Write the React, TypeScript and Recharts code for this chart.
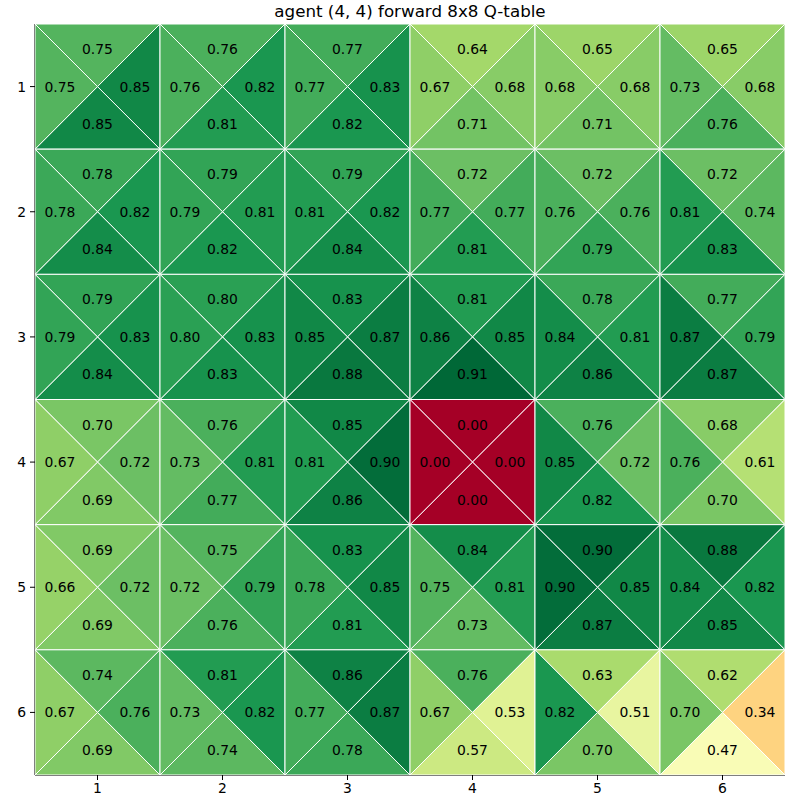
import { ScatterChart, Scatter, XAxis, YAxis } from 'recharts';

const COLS = [1, 2, 3, 4, 5, 6];
const ROWS = [1, 2, 3, 4, 5, 6];

// Q-values per action, one row of the grid per line (row 1 at top)
const Q_UP = [
  [0.75, 0.76, 0.77, 0.64, 0.65, 0.65],
  [0.78, 0.79, 0.79, 0.72, 0.72, 0.72],
  [0.79, 0.80, 0.83, 0.81, 0.78, 0.77],
  [0.70, 0.76, 0.85, 0.00, 0.76, 0.68],
  [0.69, 0.75, 0.83, 0.84, 0.90, 0.88],
  [0.74, 0.81, 0.86, 0.76, 0.63, 0.62],
];
const Q_RIGHT = [
  [0.85, 0.82, 0.83, 0.68, 0.68, 0.68],
  [0.82, 0.81, 0.82, 0.77, 0.76, 0.74],
  [0.83, 0.83, 0.87, 0.85, 0.81, 0.79],
  [0.72, 0.81, 0.90, 0.00, 0.72, 0.61],
  [0.72, 0.79, 0.85, 0.81, 0.85, 0.82],
  [0.76, 0.82, 0.87, 0.53, 0.51, 0.34],
];
const Q_DOWN = [
  [0.85, 0.81, 0.82, 0.71, 0.71, 0.76],
  [0.84, 0.82, 0.84, 0.81, 0.79, 0.83],
  [0.84, 0.83, 0.88, 0.91, 0.86, 0.87],
  [0.69, 0.77, 0.86, 0.00, 0.82, 0.70],
  [0.69, 0.76, 0.81, 0.73, 0.87, 0.85],
  [0.69, 0.74, 0.78, 0.57, 0.70, 0.47],
];
const Q_LEFT = [
  [0.75, 0.76, 0.77, 0.67, 0.68, 0.73],
  [0.78, 0.79, 0.81, 0.77, 0.76, 0.81],
  [0.79, 0.80, 0.85, 0.86, 0.84, 0.87],
  [0.67, 0.73, 0.81, 0.00, 0.85, 0.76],
  [0.66, 0.72, 0.78, 0.75, 0.90, 0.84],
  [0.67, 0.73, 0.77, 0.67, 0.82, 0.70],
];

const TITLE = 'agent (4, 4) forward 8x8 Q-table';

const RDYLGN = [
  '#a50026', '#d73027', '#f46d43', '#fdae61', '#fee08b', '#ffffbf',
  '#d9ef8b', '#a6d96a', '#66bd63', '#1a9850', '#006837',
];

const hexToRgb = (h: string) => [1, 3, 5].map((i) => parseInt(h.slice(i, i + 2), 16));

const colorFor = (t: number) => {
  const c = Math.max(0, Math.min(1, t)) * (RDYLGN.length - 1);
  const i = Math.min(Math.floor(c), RDYLGN.length - 2);
  const f = c - i;
  const a = hexToRgb(RDYLGN[i]);
  const b = hexToRgb(RDYLGN[i + 1]);
  const rgb = a.map((v, k) => Math.round(v + (b[k] - v) * f));
  return `rgb(${rgb.join(',')})`;
};

const W = 800;
const H = 800;
const MARGIN = { top: 24, right: 15, bottom: 0, left: 0 };
const Y_AXIS_W = 35;
const X_AXIS_H = 25;
const CELL_W = (W - MARGIN.left - MARGIN.right - Y_AXIS_W) / COLS.length;
const CELL_H = (H - MARGIN.top - MARGIN.bottom - X_AXIS_H) / ROWS.length;
const FONT = 'DejaVu Sans, sans-serif';

type Dir = 'up' | 'right' | 'down' | 'left';

const tables: [Dir, number[][]][] = [
  ['up', Q_UP],
  ['right', Q_RIGHT],
  ['down', Q_DOWN],
  ['left', Q_LEFT],
];

const vmax = Math.max(...tables.flatMap(([, t]) => t.flat()));

const triangles = ROWS.flatMap((row, ri) =>
  COLS.flatMap((col, ci) =>
    tables.map(([dir, t]) => ({ x: col, y: row, dir, v: t[ri][ci] }))
  )
);

const TriangleShape = (props: any) => {
  const { cx, cy, payload } = props;
  const hx = CELL_W / 2;
  const hy = CELL_H / 2;
  let pts: number[][] = [];
  if (payload.dir === 'up') pts = [[cx - hx, cy - hy], [cx + hx, cy - hy]];
  if (payload.dir === 'right') pts = [[cx + hx, cy - hy], [cx + hx, cy + hy]];
  if (payload.dir === 'down') pts = [[cx + hx, cy + hy], [cx - hx, cy + hy]];
  if (payload.dir === 'left') pts = [[cx - hx, cy + hy], [cx - hx, cy - hy]];
  const d = [[cx, cy], ...pts].map((p) => p.join(',')).join(' ');
  return <polygon points={d} fill={colorFor(payload.v / vmax)} stroke="#fff" strokeWidth={1} />;
};

const LabelShape = (props: any) => {
  const { cx, cy, payload } = props;
  const off = { up: [0, -0.3], right: [0.3, 0], down: [0, 0.3], left: [-0.3, 0] }[payload.dir as Dir];
  return (
    <text
      x={cx + off[0] * CELL_W}
      y={cy + off[1] * CELL_H}
      textAnchor="middle"
      dominantBaseline="central"
      fontFamily={FONT}
      fontSize={13.9}
      fill="#000"
    >
      {payload.v.toFixed(2)}
    </text>
  );
};

const tickStyle = { fontSize: 13.9, fill: '#000', fontFamily: FONT };

export default function App() {
  return (
    <div style={{ position: 'absolute', left: 0, top: 0, width: W, height: H, background: '#fff' }}>
      <div
        style={{
          position: 'absolute',
          top: 1,
          left: MARGIN.left + Y_AXIS_W,
          width: W - MARGIN.left - MARGIN.right - Y_AXIS_W,
          textAlign: 'center',
          fontFamily: FONT,
          fontSize: 16.7,
          lineHeight: '20px',
        }}
      >
        {TITLE}
      </div>
      <ScatterChart width={W} height={H} margin={MARGIN}>
        <XAxis
          type="number"
          dataKey="x"
          domain={[0.5, 6.5]}
          ticks={COLS}
          height={X_AXIS_H}
          tickSize={5}
          tickMargin={3}
          stroke="#000"
          tick={tickStyle}
          allowDataOverflow
        />
        <YAxis
          type="number"
          dataKey="y"
          domain={[0.5, 6.5]}
          ticks={ROWS}
          reversed
          width={Y_AXIS_W}
          tickSize={5}
          tickMargin={4}
          stroke="#000"
          tick={tickStyle}
          allowDataOverflow
        />
        <XAxis xAxisId="top" orientation="top" type="number" domain={[0.5, 6.5]} height={0} tick={false} tickLine={false} stroke="#000" allowDataOverflow />
        <YAxis yAxisId="right" orientation="right" type="number" domain={[0.5, 6.5]} width={0} tick={false} tickLine={false} stroke="#000" allowDataOverflow />
        <Scatter data={triangles} shape={TriangleShape} isAnimationActive={false} />
        <Scatter data={triangles} shape={LabelShape} isAnimationActive={false} />
      </ScatterChart>
    </div>
  );
}
